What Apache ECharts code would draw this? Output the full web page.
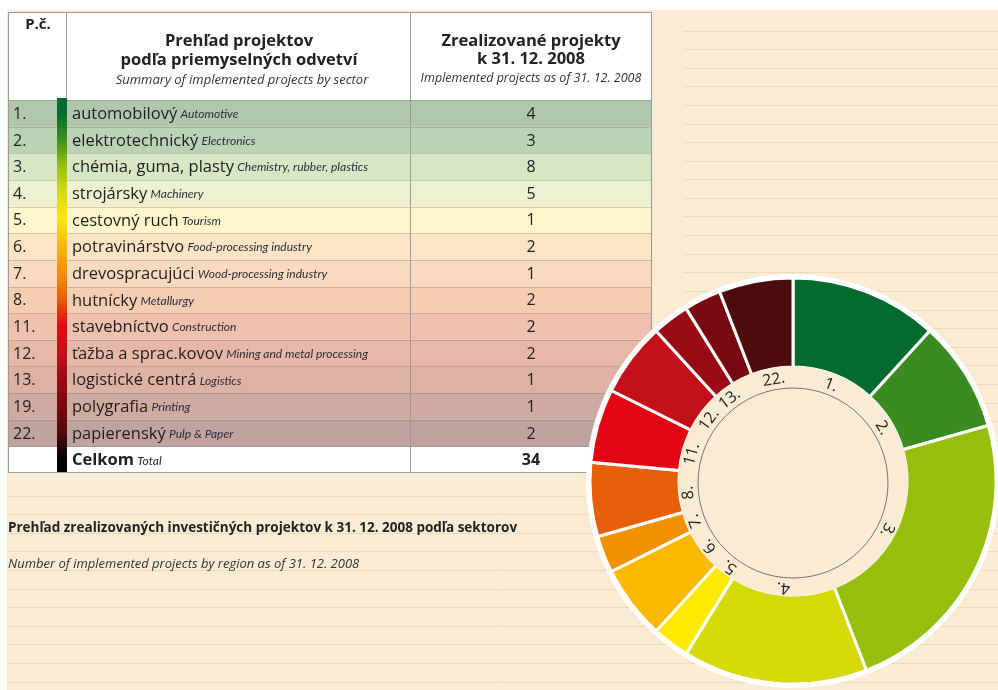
<!DOCTYPE html>
<html>
<head>
<meta charset="utf-8">
<script src="https://cdn.jsdelivr.net/npm/echarts@6/dist/echarts.min.js"></script>
<style>
html,body{margin:0;padding:0;background:#fff;}
#chart{width:998px;height:690px;}
</style>
</head>
<body>
<div id="chart"></div>
<script>
// ---------- DATA ----------
const rowNos   = ['1.','2.','3.','4.','5.','6.','7.','8.','11.','12.','13.','19.','22.'];
const namesSk  = ['automobilový','elektrotechnický','chémia, guma, plasty','strojársky','cestovný ruch','potravinárstvo','drevospracujúci','hutnícky','stavebníctvo','ťažba a sprac.kovov','logistické centrá','polygrafia','papierenský'];
const namesEn  = ['Automotive','Electronics','Chemistry, rubber, plastics','Machinery','Tourism','Food-processing industry','Wood-processing industry','Metallurgy','Construction','Mining and metal processing','Logistics','Printing','Pulp & Paper'];
const values   = [4,3,8,5,1,2,1,2,2,2,1,1,2];
const totalSk  = 'Celkom';
const totalEn  = 'Total';
const sliceColors = ['#006a2f','#3a8b20','#96bf0c','#d3da08','#ffe900','#fbb900','#f29100','#e75f0b','#e20613','#c3111c','#990a14','#780a0f','#4e0b0b'];
const rowColors   = ['#b0c7ad','#bcd2b7','#d7e6c5','#eef1cf','#fff6cc','#fce4c5','#f9d9bf','#f5cdb3','#eec0ad','#e7b8a7','#ddb1a3','#cfaaa1','#c0a39e'];
const headerLeft  = ['Prehľad projektov','podľa priemyselných odvetví','Summary of implemented projects by sector'];
const headerRight = ['Zrealizované projekty','k 31. 12. 2008','Implemented projects as of 31. 12. 2008'];
const headerNo    = 'P.č.';
const footer1 = 'Prehľad zrealizovaných investičných projektov k 31. 12. 2008 podľa sektorov';
const footer2 = 'Number of implemented projects by region as of 31. 12. 2008';

// ---------- LAYOUT ----------
const FONT = '"Open Sans", Lato, sans-serif';
const FONT2 = 'Lato, "Open Sans", sans-serif';
const CREAM = '#faebd5';
const LINE = '#eed9b8';
const TX0 = 8, TX1 = 652, TY0 = 12, HEAD_B = 100, TY1 = 473;
const BAR_X = 57, BAR_W = 10, DIV_X = 410;
const CX = 793, CY = 481, R_IN = 114, R_OUT = 203;

const total = values.reduce((a,b)=>a+b,0);
const rowIdx = rowNos.map((_,i)=>i).concat([rowNos.length]);

const graphics = [];
graphics.push({type:'rect', shape:{x:7,y:10,width:991,height:680}, style:{fill:CREAM}, silent:true});
for(let y=30.5; y<690; y+=18.6){
  const x0 = y < TY1 + 5 ? 683 : 7;
  graphics.push({type:'line', shape:{x1:x0,y1:Math.round(y)+0.5,x2:998,y2:Math.round(y)+0.5}, style:{stroke:LINE,lineWidth:1}, silent:true});
}
graphics.push({type:'rect', shape:{x:TX0,y:TY0,width:TX1-TX0,height:HEAD_B-TY0}, style:{fill:'#fff'}, silent:true});
graphics.push({type:'line', shape:{x1:66.5,y1:TY0,x2:66.5,y2:HEAD_B}, style:{stroke:'#9a9a9a',lineWidth:1}, silent:true});
graphics.push({type:'line', shape:{x1:DIV_X+0.5,y1:TY0,x2:DIV_X+0.5,y2:HEAD_B}, style:{stroke:'#9a9a9a',lineWidth:1}, silent:true});
graphics.push({type:'text', style:{text:headerNo, x:38, y:25, textAlign:'center', textVerticalAlign:'middle', font:'bold 15px '+FONT, fill:'#222'}, silent:true});
const hlc = (66+DIV_X)/2 + 1, hrc = (DIV_X+TX1)/2;
graphics.push({type:'text', style:{text:headerLeft[0], x:hlc, y:41, textAlign:'center', textVerticalAlign:'middle', font:'bold 16.5px '+FONT, fill:'#222'}, silent:true});
graphics.push({type:'text', style:{text:headerLeft[1], x:hlc, y:60, textAlign:'center', textVerticalAlign:'middle', font:'bold 16.5px '+FONT, fill:'#222'}, silent:true});
graphics.push({type:'text', style:{text:headerLeft[2], x:hlc+3, y:80, textAlign:'center', textVerticalAlign:'middle', font:'italic 13px '+FONT, fill:'#333'}, silent:true});
graphics.push({type:'text', style:{text:headerRight[0], x:hrc, y:41, textAlign:'center', textVerticalAlign:'middle', font:'bold 16.5px '+FONT, fill:'#222'}, silent:true});
graphics.push({type:'text', style:{text:headerRight[1], x:hrc, y:59, textAlign:'center', textVerticalAlign:'middle', font:'bold 16.5px '+FONT, fill:'#222'}, silent:true});
graphics.push({type:'text', style:{text:headerRight[2], x:hrc, y:78, textAlign:'center', textVerticalAlign:'middle', font:'italic 12.5px '+FONT, fill:'#333'}, silent:true});
graphics.push({type:'text', style:{text:footer1, x:8, y:528, textVerticalAlign:'middle', font:'bold 13.5px '+FONT, fill:'#222'}, silent:true});
graphics.push({type:'text', style:{text:footer2, x:8, y:564, textVerticalAlign:'middle', font:'italic 13px '+FONT, fill:'#333'}, silent:true});

const nRows = rowIdx.length;
const stops = sliceColors.map((c,i)=>({offset:(i+0.5)/nRows, color:c}));
stops.unshift({offset:0,color:sliceColors[0]});
stops.push({offset:(nRows-0.5)/nRows, color:'#000'});
stops.push({offset:1, color:'#000'});

const upper = [
  {type:'rect', z:2, shape:{x:BAR_X,y:HEAD_B-2,width:BAR_W,height:TY1-HEAD_B+2},
   style:{fill:new echarts.graphic.LinearGradient(0,0,0,1,stops)}, silent:true},
  {type:'rect', z:2, shape:{x:TX0+0.5,y:TY0+0.5,width:TX1-TX0-1,height:TY1-TY0-1},
   style:{fill:'none',stroke:'#9a9a9a',lineWidth:1}, silent:true},
  {type:'circle', z:2, shape:{cx:CX,cy:CY,r:R_OUT+4}, style:{fill:'#fff'}, silent:true},
  {type:'circle', z:10, shape:{cx:CX,cy:CY,r:R_IN+1}, style:{fill:CREAM}, silent:true},
  {type:'circle', z:11, shape:{cx:CX,cy:CY+2,r:95}, style:{fill:'none', stroke:'#7a746c', lineWidth:1}, silent:true}
];

let acc = 0;
const labelData = values.map((v,i)=>{
  const mid = (acc + v/2) / total * 360; acc += v;
  return {value:v, name:rowNos[i], label:{rotate:-mid}};
});

const chart = echarts.init(document.getElementById('chart'), null, {renderer:'canvas'});
chart.setOption({
  animation:false,
  backgroundColor:'#fff',
  graphic: graphics.concat(upper),
  grid:{left:TX0, top:HEAD_B, width:TX1-TX0, height:TY1-HEAD_B},
  xAxis:{type:'value', min:0, max:1, show:false},
  yAxis:{type:'category', inverse:true, data:rowIdx.map(String), show:false},
  series:[
    {
      type:'custom',
      z:1,
      silent:true,
      data: rowIdx.map(i=>[0.5,i]),
      encode:{x:0,y:1},
      renderItem:function(params, api){
        const i = api.value(1);
        const isTotal = i === rowNos.length;
        const pL = api.coord([0,i]);
        const pR = api.coord([1,i]);
        const h = api.size([0,1])[1];
        const x0 = pL[0], x1 = pR[0], yc = pL[1], y0 = yc - h/2;
        const bg = isTotal ? '#ffffff' : rowColors[i];
        const children = [
          {type:'rect', shape:{x:x0,y:y0,width:x1-x0,height:h}, style:{fill:bg}},
          {type:'line', shape:{x1:x0,y1:Math.round(y0)+0.5,x2:x1,y2:Math.round(y0)+0.5}, style:{stroke:isTotal?'#9a9a9a':'rgba(110,110,110,0.3)',lineWidth:1}},
          {type:'line', shape:{x1:DIV_X+0.5,y1:y0,x2:DIV_X+0.5,y2:y0+h}, style:{stroke:'#9a9a9a',lineWidth:1}}
        ];
        if(!isTotal){
          children.push({type:'text', style:{text:rowNos[i], x:x0+5, y:yc+1, textVerticalAlign:'middle', font:'16px '+FONT, fill:'#222'}});
        }
        const sk = isTotal ? totalSk : namesSk[i];
        const en = isTotal ? totalEn : namesEn[i];
        children.push({type:'text', style:{
          text:'{sk|'+sk+'} {en|'+en+'}', x:BAR_X+BAR_W+5, y:yc+1, textVerticalAlign:'middle',
          rich:{
            sk:{font:(isTotal?'bold ':'')+'16.5px '+FONT, fill:'#1e1e1e'},
            en:{font:'italic 12px '+FONT2, fill:'#2c2c3c'}
          }
        }});
        children.push({type:'text', style:{text:String(isTotal?total:values[i]), x:(DIV_X+TX1)/2, y:yc+1,
          textAlign:'center', textVerticalAlign:'middle', font:(isTotal?'bold ':'')+'16px '+FONT, fill:'#222'}});
        return {type:'group', children:children};
      }
    },
    {
      type:'pie',
      z:3,
      center:[CX,CY],
      radius:[R_IN,R_OUT],
      startAngle:90,
      clockwise:true,
      silent:true,
      avoidLabelOverlap:false,
      label:{show:false},
      labelLine:{show:false},
      itemStyle:{borderColor:'#fff', borderWidth:3},
      data: values.map((v,i)=>({value:v, name:rowNos[i], itemStyle:{color:sliceColors[i]}}))
    },
    {
      type:'pie',
      z:20,
      center:[CX,CY+2],
      radius:[92,112],
      startAngle:90,
      clockwise:true,
      silent:true,
      avoidLabelOverlap:false,
      itemStyle:{color:'rgba(0,0,0,0)'},
      label:{show:true, position:'inside', formatter:'{b}', fontFamily:FONT, fontSize:16, color:'#222'},
      labelLine:{show:false},
      emphasis:{disabled:true},
      data: labelData
    }
  ]
});
</script>
</body>
</html>
